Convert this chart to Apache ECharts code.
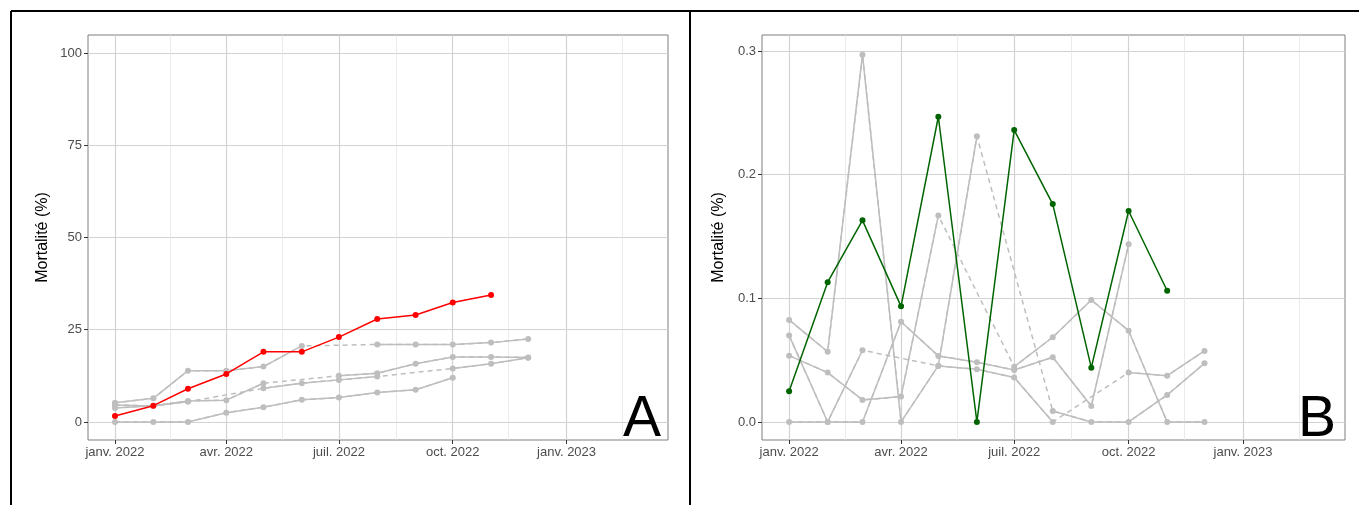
<!DOCTYPE html>
<html>
<head>
<meta charset="utf-8">
<script src="https://cdn.jsdelivr.net/npm/echarts@6/dist/echarts.min.js"></script>
<style>
html, body { margin: 0; padding: 0; background: #ffffff; }
#chart { width: 1359px; height: 505px; }
</style>
</head>
<body>
<div id="chart"></div>
<script>
// Monthly sampling dates (first of each month)
const months = ['2022-01-01', '2022-02-01', '2022-03-01', '2022-04-01', '2022-05-01', '2022-06-01',
                '2022-07-01', '2022-08-01', '2022-09-01', '2022-10-01', '2022-11-01', '2022-12-01'];

// Axis breaks
const tickDates = ['2022-01-01', '2022-04-01', '2022-07-01', '2022-10-01', '2023-01-01'];
const tickLabels = ['janv. 2022', 'avr. 2022', 'juil. 2022', 'oct. 2022', 'janv. 2023'];
const minorTickDates = ['2022-02-15', '2022-05-16', '2022-08-16', '2022-11-15', '2023-02-15'];
const cumTicks = [0, 25, 50, 75, 100];
const monthlyTicks = [0, 0.1, 0.2, 0.3];

// Panel A: cumulative mortality (%)
const cumSite1 = [5.2, 6.4, 13.9, 13.9, 15.0, 20.6, null, 21.0, 21.0, 21.0, 21.5, 22.5];
const cumSite2 = [4.6, 4.3, 5.7, 5.9, 10.5, null, 12.5, 13.2, 15.8, 17.6, 17.6, 17.5];
const cumSite3 = [3.8, 4.4, 5.5, null, 9.1, 10.5, 11.4, 12.3, null, 14.5, 15.8, 17.4];
const cumSite4 = [0, 0, 0, 2.5, 4.0, 6.0, 6.6, 8.0, 8.7, 12.0, null, null];
const cumFocus = [1.6, 4.4, 9.0, 13.0, 19.0, 19.0, 23.0, 27.9, 29.0, 32.4, 34.4, null];

// Panel B: monthly mortality (%)
const monSite1 = [0.0825, 0.0568, 0.297, 0, 0.0455, 0.231, null, 0.0089, 0, 0, 0.0218, 0.0474];
const monSite2 = [0.0536, 0.0399, 0.0178, 0.0205, 0.167, null, 0.0447, 0.0685, 0.0986, 0.0738, 0, 0];
const monSite3 = [0.070, 0, 0.058, null, 0.0453, 0.0426, 0.036, 0, null, 0.0399, 0.0374, 0.0574];
const monSite4 = [0, 0, 0, 0.081, 0.0534, 0.0483, 0.042, 0.0523, 0.0129, 0.1436, null, null];
const monFocus = [0.0248, 0.113, 0.163, 0.0935, 0.2468, 0, 0.236, 0.1762, 0.0439, 0.1706, 0.1061, null];

const FONT = 'Liberation Sans, Arial, sans-serif';
const GREY = '#bebebe';
const MAJOR = '#d2d2d2';
const MINOR = '#e6e6e6';
const BORDER = '#7f7f7f';
const LW = 1.5;

// Dates are placed on a day scale counted from 1 Jan 2022
const origin = Date.UTC(2022, 0, 1);
const dayOf = s => (Date.parse(s + 'T00:00:00Z') - origin) / 86400000;
const xs = months.map(dayOf);
const majorX = tickDates.map(dayOf);
const minorX = minorTickDates.map(dayOf);
const X_MIN = -21.8, X_MAX = 447;

function pairs(arr) { return arr.map((v, i) => [xs[i], v]); }

// A site line: dashed bridge across missing months, solid line with points on top
function siteSeries(arr, xi, yi, color, dashed) {
  const full = pairs(arr);
  const out = [];
  if (dashed) {
    out.push({
      type: 'line', xAxisIndex: xi, yAxisIndex: yi,
      data: full.filter(p => p[1] != null),
      symbol: 'none', silent: true, z: 2,
      lineStyle: { color: color, width: LW, type: [5, 4] }
    });
  }
  out.push({
    type: 'line', xAxisIndex: xi, yAxisIndex: yi,
    data: full, connectNulls: false,
    symbol: 'circle', symbolSize: 6, showAllSymbol: true, z: dashed ? 3 : 5,
    itemStyle: { color: color },
    lineStyle: { color: color, width: LW, type: 'solid' }
  });
  return out;
}

function xAxes(gridIndex) {
  return [
    {
      type: 'value', gridIndex: gridIndex, min: X_MIN, max: X_MAX, position: 'bottom',
      axisLine: { show: false, onZero: false },
      axisTick: { show: true, customValues: majorX, length: 4, lineStyle: { color: '#333333', width: 1 } },
      axisLabel: {
        customValues: majorX, margin: 6, color: '#4d4d4d', fontSize: 13, fontFamily: FONT,
        formatter: v => { const k = majorX.findIndex(d => Math.abs(d - v) < 0.01); return k >= 0 ? tickLabels[k] : ''; }
      },
      splitLine: { show: true, lineStyle: { color: MAJOR, width: 1.2 } }
    },
    {
      type: 'value', gridIndex: gridIndex, min: X_MIN, max: X_MAX, position: 'bottom',
      axisLine: { show: false, onZero: false },
      axisTick: { show: false, customValues: minorX },
      axisLabel: { show: false, customValues: minorX },
      splitLine: { show: true, lineStyle: { color: MINOR, width: 0.8 } }
    }
  ];
}

function yAxis(gridIndex, min, max, ticks, fmt, nameGap) {
  return {
    type: 'value', gridIndex: gridIndex, min: min, max: max, position: 'left',
    axisLine: { show: false, onZero: false },
    axisTick: { show: true, customValues: ticks, length: 4, lineStyle: { color: '#333333', width: 1 } },
    axisLabel: { customValues: ticks, margin: 6, color: '#4d4d4d', fontSize: 13, fontFamily: FONT, formatter: fmt },
    splitLine: { show: true, lineStyle: { color: MAJOR, width: 1.2 } },
    name: 'Mortalité (%)', nameLocation: 'middle', nameGap: nameGap,
    nameTextStyle: { color: '#000000', fontSize: 16, fontFamily: FONT }
  };
}

const series = [].concat(
  siteSeries(cumSite1, 0, 0, GREY, true),
  siteSeries(cumSite2, 0, 0, GREY, true),
  siteSeries(cumSite3, 0, 0, GREY, true),
  siteSeries(cumSite4, 0, 0, GREY, true),
  siteSeries(cumFocus, 0, 0, '#ff0000', false),
  siteSeries(monSite1, 2, 1, GREY, true),
  siteSeries(monSite2, 2, 1, GREY, true),
  siteSeries(monSite3, 2, 1, GREY, true),
  siteSeries(monSite4, 2, 1, GREY, true),
  siteSeries(monFocus, 2, 1, '#006400', false)
);

const chart = echarts.init(document.getElementById('chart'), null, { renderer: 'canvas' });
chart.setOption({
  animation: false,
  backgroundColor: '#ffffff',
  textStyle: { fontFamily: FONT },
  grid: [
    { left: 88, top: 35, width: 580, height: 405, show: true, borderColor: BORDER, borderWidth: 1, backgroundColor: 'transparent' },
    { left: 762, top: 35, width: 583, height: 405, show: true, borderColor: BORDER, borderWidth: 1, backgroundColor: 'transparent' }
  ],
  xAxis: xAxes(0).concat(xAxes(1)),
  yAxis: [
    yAxis(0, -4.9, 104.9, cumTicks, v => String(v), 37),
    yAxis(1, -0.0146, 0.3129, monthlyTicks, v => v.toFixed(1), 35)
  ],
  series: series,
  graphic: [
    { type: 'line', shape: { x1: 11, y1: 11, x2: 1359, y2: 11 }, style: { stroke: '#000', lineWidth: 2 }, silent: true },
    { type: 'line', shape: { x1: 11, y1: 11, x2: 11, y2: 505 }, style: { stroke: '#000', lineWidth: 2 }, silent: true },
    { type: 'line', shape: { x1: 690, y1: 11, x2: 690, y2: 505 }, style: { stroke: '#000', lineWidth: 2 }, silent: true },
    { type: 'text', right: 1359 - 661, top: 392, style: { text: 'A', fontSize: 57, fontFamily: FONT, fill: '#000' }, silent: true, z: 10 },
    { type: 'text', right: 1359 - 1336, top: 392, style: { text: 'B', fontSize: 57, fontFamily: FONT, fill: '#000' }, silent: true, z: 10 }
  ]
});
</script>
</body>
</html>
